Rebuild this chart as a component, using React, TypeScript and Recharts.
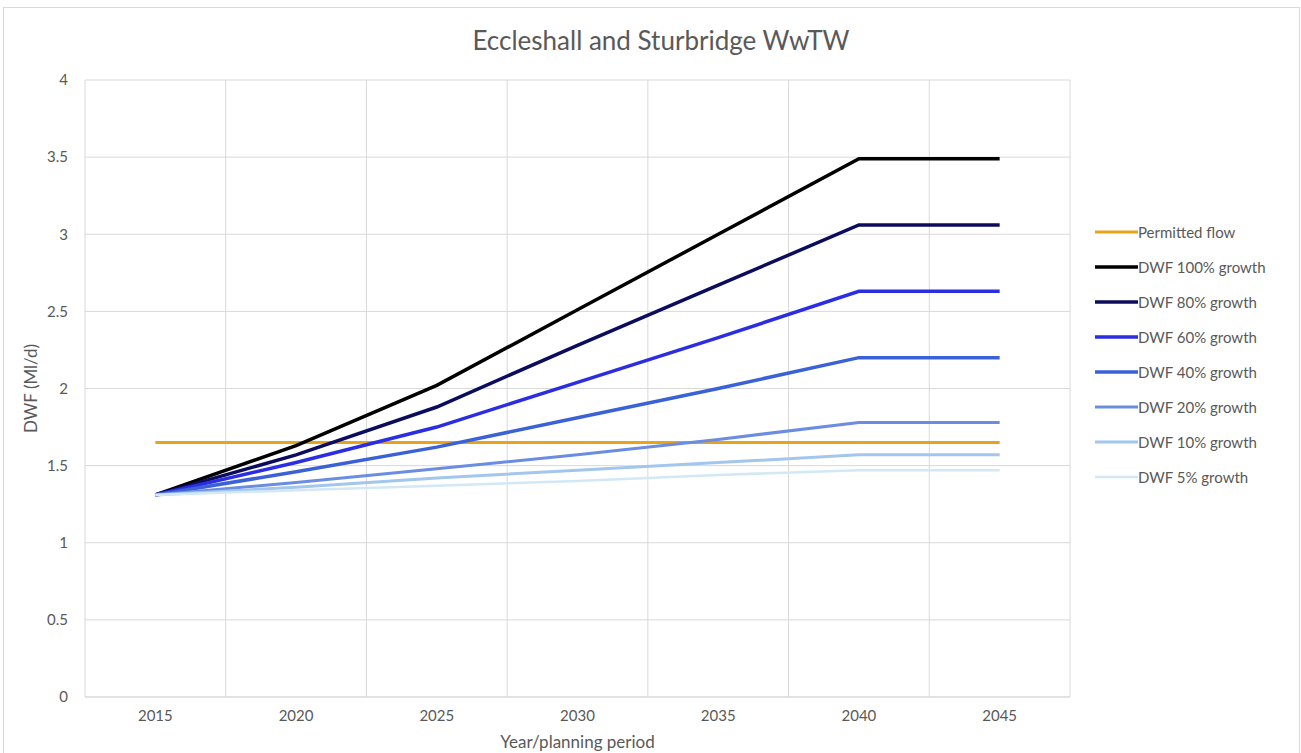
import React from 'react';
import { LineChart, Line, XAxis, YAxis, CartesianGrid, Legend } from 'recharts';

const years = ['2015', '2020', '2025', '2030', '2035', '2040', '2045'];
const permittedFlow = [1.65, 1.65, 1.65, 1.65, 1.65, 1.65, 1.65];
const dwf100 = [1.31, 1.63, 2.02, 2.51, 3.0, 3.49, 3.49];
const dwf80 = [1.31, 1.57, 1.88, 2.28, 2.67, 3.06, 3.06];
const dwf60 = [1.31, 1.52, 1.75, 2.04, 2.33, 2.63, 2.63];
const dwf40 = [1.31, 1.46, 1.62, 1.81, 2.0, 2.2, 2.2];
const dwf20 = [1.31, 1.39, 1.48, 1.57, 1.67, 1.78, 1.78];
const dwf10 = [1.31, 1.36, 1.42, 1.47, 1.52, 1.57, 1.57];
const dwf5 = [1.31, 1.34, 1.37, 1.4, 1.44, 1.47, 1.47];
const yTicks = [0, 0.5, 1, 1.5, 2, 2.5, 3, 3.5, 4];

// category slots: each year sits in the middle of its slot, grid lines on slot boundaries
const slotCenters = years.map((_, i) => i + 0.5);
const slotBoundaries = [...years.map((_, i) => i), years.length];

const series = [
  { key: 'permitted', name: 'Permitted flow', values: permittedFlow, color: '#E8A31C', width: 3 },
  { key: 'd100', name: 'DWF 100% growth', values: dwf100, color: '#000000', width: 3.5 },
  { key: 'd80', name: 'DWF 80% growth', values: dwf80, color: '#0C0C5E', width: 3.5 },
  { key: 'd60', name: 'DWF 60% growth', values: dwf60, color: '#2B2DE3', width: 3.5 },
  { key: 'd40', name: 'DWF 40% growth', values: dwf40, color: '#3A62D6', width: 3.5 },
  { key: 'd20', name: 'DWF 20% growth', values: dwf20, color: '#6A8DE2', width: 3 },
  { key: 'd10', name: 'DWF 10% growth', values: dwf10, color: '#A2C6EE', width: 3 },
  { key: 'd5', name: 'DWF 5% growth', values: dwf5, color: '#D2E8F6', width: 2.5 },
];

const data = years.map((year, i) => {
  const row: Record<string, string | number> = { year, pos: slotCenters[i] };
  series.forEach((s) => {
    row[s.key] = s.values[i];
  });
  return row;
});

const FONT = 'Lato, "Open Sans", sans-serif';
const TEXT = '#595959';

const renderLegend = () => (
  <div style={{ fontFamily: FONT }}>
    {series.map((s) => (
      <div key={s.key} style={{ display: 'flex', alignItems: 'center', height: 35 }}>
        <svg width={43} height={10} style={{ display: 'block' }}>
          <line x1={0} y1={5} x2={43} y2={5} stroke={s.color} strokeWidth={s.width} />
        </svg>
        <span style={{ color: TEXT, fontSize: 15, whiteSpace: 'nowrap' }}>{s.name}</span>
      </div>
    ))}
  </div>
);

export default function App() {
  return (
    <div style={{ position: 'absolute', left: 0, top: 0, width: 1301, height: 753, background: '#fff', overflow: 'hidden' }}>
      <div
        style={{
          position: 'absolute',
          left: 3,
          top: 7,
          width: 1297,
          height: 750,
          border: '1px solid #D9D9D9',
          boxSizing: 'border-box',
        }}
      />
      <div
        style={{
          position: 'absolute',
          left: 0,
          top: 23,
          width: 1322,
          textAlign: 'center',
          fontFamily: FONT,
          fontSize: 26,
          lineHeight: '34px',
          color: TEXT,
        }}
      >
        Eccleshall and Sturbridge WwTW
      </div>
      <div style={{ position: 'absolute', left: 0, top: 0 }}>
        <LineChart
          width={1301}
          height={753}
          data={data}
          margin={{ top: 80, right: 231, bottom: 0, left: 0 }}
        >
          <CartesianGrid xAxisId="grid" stroke="#D9D9D9" strokeWidth={1} />
          <XAxis
            xAxisId="grid"
            dataKey="pos"
            type="number"
            domain={[0, years.length]}
            ticks={slotBoundaries}
            allowDataOverflow
            hide
          />
          <XAxis
            dataKey="pos"
            type="number"
            domain={[0, years.length]}
            ticks={slotCenters}
            allowDataOverflow
            tickFormatter={(v: number) => years[Math.round(v - 0.5)]}
            height={56}
            axisLine={{ stroke: '#D9D9D9' }}
            tickLine={false}
            tickSize={0}
            tickMargin={13}
            tick={{ fill: TEXT, fontSize: 15, fontFamily: FONT }}
            interval={0}
            label={{
              value: 'Year/planning period',
              position: 'insideBottom',
              offset: 5,
              fill: TEXT,
              fontSize: 17,
              fontFamily: FONT,
            }}
          />
          <YAxis
            width={85}
            domain={[0, 4]}
            ticks={yTicks}
            axisLine={false}
            tickLine={false}
            tickSize={0}
            tickMargin={17}
            tick={{ fill: TEXT, fontSize: 15, fontFamily: FONT }}
            label={{
              value: 'DWF (Ml/d)',
              angle: -90,
              position: 'insideLeft',
              offset: 31,
              fill: TEXT,
              fontSize: 17,
              fontFamily: FONT,
              style: { textAnchor: 'middle' },
            }}
          />
          {series.map((s) => (
            <Line
              key={s.key}
              dataKey={s.key}
              name={s.name}
              stroke={s.color}
              strokeWidth={s.width}
              dot={false}
              activeDot={false}
              isAnimationActive={false}
              type="linear"
            />
          ))}
          <Legend
            layout="vertical"
            align="center"
            verticalAlign="middle"
            content={renderLegend}
            wrapperStyle={{ left: 1095, top: 214, width: 205 }}
          />
        </LineChart>
      </div>
    </div>
  );
}
